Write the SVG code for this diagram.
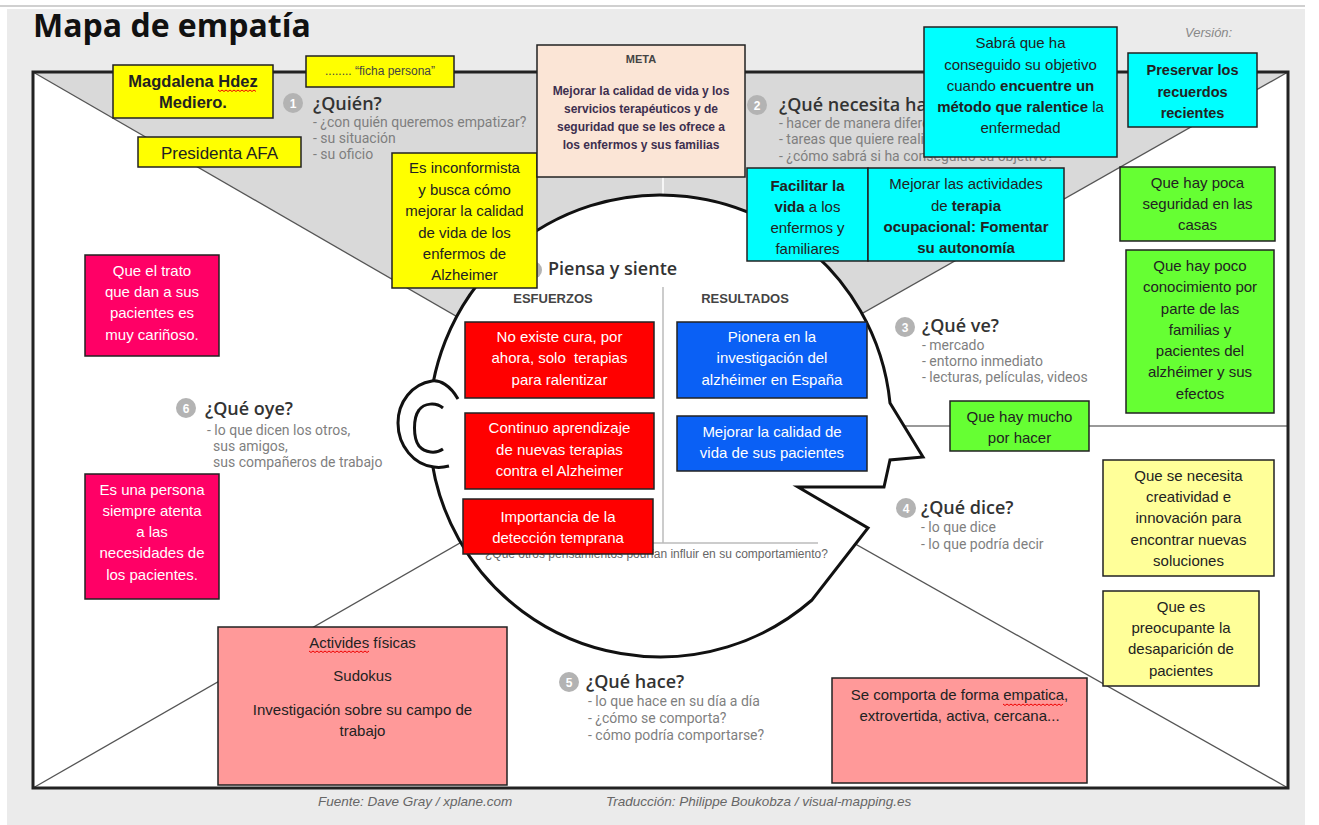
<svg xmlns="http://www.w3.org/2000/svg" width="1319" height="825" viewBox="0 0 1319 825">
<style>
.note rect{stroke:#222;stroke-width:1.5}
.nt{font-family:"Liberation Sans",Arial,sans-serif;font-size:15px;text-anchor:middle;fill:#222}
.w{fill:#fff}
.b{font-weight:bold}
.h{font-family:"Open Sans","Liberation Sans",sans-serif;font-size:18px;font-weight:600;fill:#333}
.sub{font-family:Roboto,"Liberation Sans",sans-serif;font-size:14px;fill:#7f7f7f}
.num circle{fill:#b3b3b3}
.num text{font-family:"Liberation Sans",sans-serif;font-size:12px;font-weight:bold;fill:#fff;text-anchor:middle}
.sq{fill:none;stroke:#e00;stroke-width:1}
.foot{font-family:"Liberation Sans",sans-serif;font-style:italic;font-size:13.5px;fill:#666}
.yel{fill:#ffff00}.cy{fill:#00ffff}.gr{fill:#66ff33}.ly{fill:#ffff99}.pk{fill:#ff9999}.hp{fill:#ff0066}.rd{fill:#ff0000}.bl{fill:#0a60f5}
.diag{stroke:#555;stroke-width:1.3}
</style>
<rect width="1319" height="825" fill="#fff"/>
<rect x="7" y="9" width="1298" height="816" fill="#ebebeb"/>
<line x1="0" y1="6" x2="1305" y2="6" stroke="#d0d0d0" stroke-width="2"/>
<text x="33" y="37" font-family="'Open Sans','Liberation Sans',sans-serif" font-weight="bold" font-size="32" fill="#111">Mapa de empatía</text>
<text x="1185" y="37" class="foot" style="font-size:13px;fill:#888">Versión:</text>

<g id="frame">
<rect x="33" y="72" width="1255" height="716" fill="#fff"/>
<polygon points="33,72 1288,72 655,431" fill="#d9d9d9"/>
</g>
<g id="connectors">
<line class="diag" x1="33" y1="72" x2="655" y2="431"/>
<line class="diag" x1="1288" y1="72" x2="655" y2="431"/>
<line class="diag" x1="33" y1="788" x2="655" y2="431"/>
<line class="diag" x1="1288" y1="788" x2="655" y2="431"/>
<line x1="880" y1="426" x2="1288" y2="426" stroke="#777" stroke-width="1.5"/>
<line x1="663" y1="72" x2="663" y2="200" stroke="#fff" stroke-width="1.5"/>
</g>
<rect x="33" y="72" width="1255" height="716" fill="none" stroke="#222" stroke-width="3"/>

<g id="head">
<path d="M812,600 A231,231 0 1 1 890,403 L923,457 L890,460 L884,487 L798,487 L868,528 Z" fill="#fff" stroke="#111" stroke-width="3" stroke-linejoin="miter"/>
<path d="M458,399 C450,385 440,380 432,381 C412,384 398,402 398,423 C398,446 414,465 434,467 C440,468 445,467 449,466" fill="#fff" stroke="#111" stroke-width="3"/>
<path d="M443,408 C436,402 424,403 419,410 C413,418 413,438 419,446 C425,453 436,454 443,449" fill="none" stroke="#111" stroke-width="3"/>
<line x1="663" y1="287" x2="663" y2="543" stroke="#bbb" stroke-width="1.5"/>
<line x1="470" y1="543" x2="818" y2="543" stroke="#bbb" stroke-width="1.5"/>
<text x="485" y="558" font-family="'Liberation Sans',sans-serif" font-size="12" fill="#666">¿Qué otros pensamientos podrían influir en su comportamiento?</text>
<g class="num"><circle cx="533" cy="270" r="9"/></g>
<text x="548" y="275" class="h">Piensa y siente</text>
<text x="553" y="303" font-family="'Liberation Sans',sans-serif" font-size="13" font-weight="bold" fill="#444" text-anchor="middle">ESFUERZOS</text>
<text x="745" y="303" font-family="'Liberation Sans',sans-serif" font-size="13" font-weight="bold" fill="#444" text-anchor="middle">RESULTADOS</text>
</g>

<g id="q1">
<g class="num"><circle cx="293" cy="103" r="10"/><text x="293" y="107.5">1</text></g>
<text x="313" y="110" class="h">¿Quién?</text>
<text class="sub" x="313" y="127">- ¿con quién queremos empatizar?</text>
<text class="sub" x="313" y="143">- su situación</text>
<text class="sub" x="313" y="159">- su oficio</text>
</g>
<g id="q2">
<g class="num"><circle cx="757" cy="105" r="10"/><text x="757" y="109.5">2</text></g>
<text x="779" y="111" class="h">¿Qué necesita ha</text>
<text class="sub" x="779" y="128">- hacer de manera diferente</text>
<text class="sub" x="779" y="144">- tareas que quiere realizar</text>
<text class="sub" x="779" y="161">- ¿cómo sabrá si ha conseguido su objetivo?</text>
</g>
<g id="q3">
<g class="num"><circle cx="905" cy="327" r="10"/><text x="905" y="331.5">3</text></g>
<text x="922" y="332" class="h">¿Qué ve?</text>
<text class="sub" x="922" y="350">- mercado</text>
<text class="sub" x="922" y="366">- entorno inmediato</text>
<text class="sub" x="922" y="382">- lecturas, películas, videos</text>
</g>
<g id="q4">
<g class="num"><circle cx="906" cy="508" r="10"/><text x="906" y="512.5">4</text></g>
<text x="921" y="514" class="h">¿Qué dice?</text>
<text class="sub" x="921" y="532">- lo que dice</text>
<text class="sub" x="921" y="549">- lo que podría decir</text>
</g>
<g id="q5">
<g class="num"><circle cx="569" cy="682" r="10"/><text x="569" y="686.5">5</text></g>
<text x="586" y="688" class="h">¿Qué hace?</text>
<text class="sub" x="588" y="706">- lo que hace en su día a día</text>
<text class="sub" x="588" y="723">- ¿cómo se comporta?</text>
<text class="sub" x="588" y="740">- cómo podría comportarse?</text>
</g>
<g id="q6">
<g class="num"><circle cx="186" cy="408" r="10"/><text x="186" y="412.5">6</text></g>
<text x="205" y="415" class="h">¿Qué oye?</text>
<text class="sub" x="207" y="435">- lo que dicen los otros,</text>
<text class="sub" x="213" y="451">sus amigos,</text>
<text class="sub" x="213" y="467">sus compañeros de trabajo</text>
</g>

<g id="n-magdalena" class="note">
<rect x="113" y="65" width="160" height="53" class="yel"/>
<text class="nt b" x="193" y="87" style="font-size:16.5px">Magdalena Hdez</text>
<text class="nt b" x="193" y="108" style="font-size:16.5px">Mediero.</text>
<path class="sq" d="M218,90 l2,1.5 l2,-1.5 l2,1.5 l2,-1.5 l2,1.5 l2,-1.5 l2,1.5 l2,-1.5 l2,1.5 l2,-1.5 l2,1.5 l2,-1.5 l2,1.5 l2,-1.5 l2,1.5 l2,-1.5 l2,1.5 l2,-1.5 l2,1.5"/>
</g>
<g id="n-ficha" class="note">
<rect x="306" y="56" width="148" height="31" class="yel"/>
<text class="nt" x="380" y="75" style="font-size:12px;fill:#444">........ “ficha persona”</text>
</g>
<g id="n-presidenta" class="note">
<rect x="138" y="137" width="163" height="30" class="yel"/>
<text class="nt" x="219.5" y="159" style="font-size:17px">Presidenta AFA</text>
</g>
<g id="n-inconformista" class="note">
<rect x="392" y="153" width="145" height="135" class="yel"/>
<text class="nt" x="464.5" y="173">Es inconformista</text>
<text class="nt" x="464.5" y="195">y busca cómo</text>
<text class="nt" x="464.5" y="216">mejorar la calidad</text>
<text class="nt" x="464.5" y="238">de vida de los</text>
<text class="nt" x="464.5" y="259">enfermos de</text>
<text class="nt" x="464.5" y="280">Alzheimer</text>
</g>
<g id="n-meta" class="note">
<rect x="537" y="45" width="208" height="132" fill="#fbe5d6"/>
<text class="nt b" x="641" y="63" style="font-size:11px;fill:#444">META</text>
<text class="nt b" x="641" y="95" style="font-size:12px;fill:#3d2f4f">Mejorar la calidad de vida y los</text>
<text class="nt b" x="641" y="113" style="font-size:12px;fill:#3d2f4f">servicios terapéuticos y de</text>
<text class="nt b" x="641" y="131" style="font-size:12px;fill:#3d2f4f">seguridad que se les ofrece a</text>
<text class="nt b" x="641" y="149" style="font-size:12px;fill:#3d2f4f">los enfermos y sus familias</text>
</g>
<g id="n-sabra" class="note">
<rect x="924" y="27" width="193" height="130" class="cy"/>
<text class="nt" x="1020.5" y="48">Sabrá que ha</text>
<text class="nt" x="1020.5" y="70">conseguido su objetivo</text>
<text class="nt" x="1020.5" y="91">cuando <tspan class="b">encuentre un</tspan></text>
<text class="nt" x="1020.5" y="112"><tspan class="b">método que ralentice</tspan> la</text>
<text class="nt" x="1020.5" y="133">enfermedad</text>
</g>
<g id="n-preservar" class="note">
<rect x="1128" y="53" width="129" height="74" class="cy"/>
<text class="nt b" x="1192.5" y="75" style="font-size:14.5px">Preservar los</text>
<text class="nt b" x="1192.5" y="97" style="font-size:14.5px">recuerdos</text>
<text class="nt b" x="1192.5" y="118" style="font-size:14.5px">recientes</text>
</g>
<g id="n-facilitar" class="note">
<rect x="747" y="168" width="121" height="93" class="cy"/>
<text class="nt b" x="807.5" y="191">Facilitar la</text>
<text class="nt" x="807.5" y="212"><tspan class="b">vida</tspan> a los</text>
<text class="nt" x="807.5" y="233">enfermos y</text>
<text class="nt" x="807.5" y="254">familiares</text>
</g>
<g id="n-mejorar-terapia" class="note">
<rect x="868" y="168" width="196" height="93" class="cy"/>
<text class="nt" x="966" y="189">Mejorar las actividades</text>
<text class="nt" x="966" y="211">de <tspan class="b">terapia</tspan></text>
<text class="nt b" x="966" y="232">ocupacional: Fomentar</text>
<text class="nt b" x="966" y="253">su autonomía</text>
</g>
<g id="n-seguridad" class="note">
<rect x="1120" y="167" width="155" height="74" class="gr"/>
<text class="nt" x="1197.5" y="188">Que hay poca</text>
<text class="nt" x="1197.5" y="209">seguridad en las</text>
<text class="nt" x="1197.5" y="230">casas</text>
</g>
<g id="n-conocimiento" class="note">
<rect x="1126" y="250" width="148" height="163" class="gr"/>
<text class="nt" x="1200" y="271">Que hay poco</text>
<text class="nt" x="1200" y="292">conocimiento por</text>
<text class="nt" x="1200" y="314">parte de las</text>
<text class="nt" x="1200" y="335">familias y</text>
<text class="nt" x="1200" y="356">pacientes del</text>
<text class="nt" x="1200" y="377">alzhéimer y sus</text>
<text class="nt" x="1200" y="399">efectos</text>
</g>
<g id="n-mucho" class="note">
<rect x="950" y="401" width="139" height="50" class="gr"/>
<text class="nt" x="1019.5" y="422">Que hay mucho</text>
<text class="nt" x="1019.5" y="443">por hacer</text>
</g>
<g id="n-creatividad" class="note">
<rect x="1103" y="460" width="171" height="116" class="ly"/>
<text class="nt" x="1188.5" y="481">Que se necesita</text>
<text class="nt" x="1188.5" y="502">creatividad e</text>
<text class="nt" x="1188.5" y="523">innovación para</text>
<text class="nt" x="1188.5" y="545">encontrar nuevas</text>
<text class="nt" x="1188.5" y="566">soluciones</text>
</g>
<g id="n-desaparicion" class="note">
<rect x="1103" y="591" width="156" height="95" class="ly"/>
<text class="nt" x="1181" y="612">Que es</text>
<text class="nt" x="1181" y="633">preocupante la</text>
<text class="nt" x="1181" y="654">desaparición de</text>
<text class="nt" x="1181" y="676">pacientes</text>
</g>
<g id="n-comporta" class="note">
<rect x="832" y="678" width="255" height="105" class="pk"/>
<text class="nt" x="959.5" y="700">Se comporta de forma empatica,</text>
<text class="nt" x="959.5" y="721">extrovertida, activa, cercana...</text>
<path class="sq" d="M1003,704 l2,1.5 l2,-1.5 l2,1.5 l2,-1.5 l2,1.5 l2,-1.5 l2,1.5 l2,-1.5 l2,1.5 l2,-1.5 l2,1.5 l2,-1.5 l2,1.5 l2,-1.5 l2,1.5 l2,-1.5 l2,1.5 l2,-1.5 l2,1.5 l2,-1.5 l2,1.5 l2,-1.5 l2,1.5 l2,-1.5 l2,1.5 l2,-1.5 l2,1.5 l2,-1.5 l2,1.5 l2,-1.5"/>
</g>
<g id="n-actividades" class="note">
<rect x="218" y="627" width="289" height="158" class="pk"/>
<text class="nt" x="362.5" y="648">Activides físicas</text>
<text class="nt" x="362.5" y="681">Sudokus</text>
<text class="nt" x="362.5" y="715">Investigación sobre su campo de</text>
<text class="nt" x="362.5" y="736">trabajo</text>
<path class="sq" d="M309,651 l2,1.5 l2,-1.5 l2,1.5 l2,-1.5 l2,1.5 l2,-1.5 l2,1.5 l2,-1.5 l2,1.5 l2,-1.5 l2,1.5 l2,-1.5 l2,1.5 l2,-1.5 l2,1.5 l2,-1.5 l2,1.5 l2,-1.5 l2,1.5 l2,-1.5 l2,1.5 l2,-1.5 l2,1.5 l2,-1.5 l2,1.5 l2,-1.5 l2,1.5 l2,-1.5 l2,1.5 l2,-1.5"/>
</g>
<g id="n-trato" class="note">
<rect x="85" y="255" width="134" height="101" class="hp"/>
<text class="nt w" x="152" y="276">Que el trato</text>
<text class="nt w" x="152" y="297">que dan a sus</text>
<text class="nt w" x="152" y="318">pacientes es</text>
<text class="nt w" x="152" y="340">muy cariñoso.</text>
</g>
<g id="n-atenta" class="note">
<rect x="85" y="474" width="134" height="125" class="hp"/>
<text class="nt w" x="152" y="495">Es una persona</text>
<text class="nt w" x="152" y="516">siempre atenta</text>
<text class="nt w" x="152" y="537">a las</text>
<text class="nt w" x="152" y="558">necesidades de</text>
<text class="nt w" x="152" y="580">los pacientes.</text>
</g>
<g id="n-cura" class="note">
<rect x="465" y="322" width="189" height="76" class="rd"/>
<text class="nt w" x="559.5" y="342">No existe cura, por</text>
<text class="nt w" x="559.5" y="363" xml:space="preserve">ahora, solo  terapias</text>
<text class="nt w" x="559.5" y="385">para ralentizar</text>
</g>
<g id="n-aprendizaje" class="note">
<rect x="465" y="413" width="189" height="76" class="rd"/>
<text class="nt w" x="559.5" y="433">Continuo aprendizaje</text>
<text class="nt w" x="559.5" y="455">de nuevas terapias</text>
<text class="nt w" x="559.5" y="476">contra el Alzheimer</text>
</g>
<g id="n-deteccion" class="note">
<rect x="463" y="499" width="190" height="55" class="rd"/>
<text class="nt w" x="558" y="522">Importancia de la</text>
<text class="nt w" x="558" y="543">detección temprana</text>
</g>
<g id="n-pionera" class="note">
<rect x="677" y="322" width="190" height="76" class="bl"/>
<text class="nt w" x="772" y="342">Pionera en la</text>
<text class="nt w" x="772" y="363">investigación del</text>
<text class="nt w" x="772" y="385">alzhéimer en España</text>
</g>
<g id="n-calidad" class="note">
<rect x="677" y="416" width="190" height="55" class="bl"/>
<text class="nt w" x="772" y="437">Mejorar la calidad de</text>
<text class="nt w" x="772" y="458">vida de sus pacientes</text>
</g>

<text x="318" y="806" class="foot">Fuente: Dave Gray / xplane.com</text>
<text x="606" y="806" class="foot">Traducción: Philippe Boukobza / visual-mapping.es</text>
</svg>
